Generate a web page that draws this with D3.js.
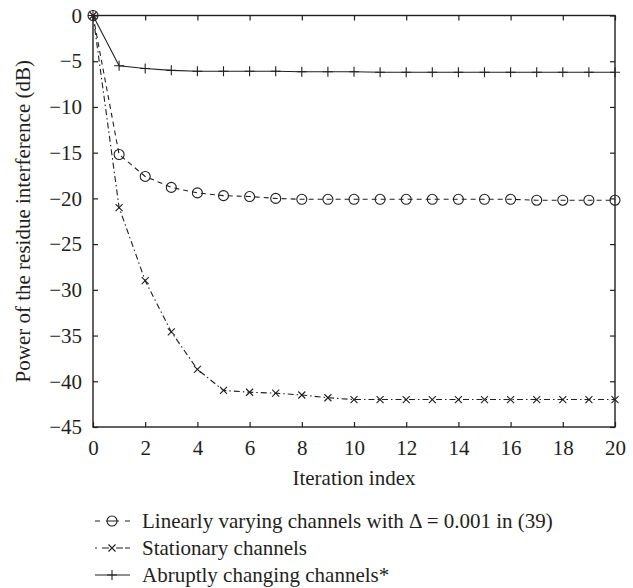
<!DOCTYPE html>
<html>
<head>
<meta charset="utf-8">
<script src="https://cdn.jsdelivr.net/npm/d3@7"></script>
<style>
  body { margin: 0; background: #fff; }
  text { font-family: "Liberation Serif", "DejaVu Serif", serif; fill: #231f20; }
</style>
</head>
<body>
<div id="chart"></div>
<script>
var width = 633;
var height = 588;

var iterations = [0,1,2,3,4,5,6,7,8,9,10,11,12,13,14,15,16,17,18,19,20];
var linearVarying = [0,-15.2,-17.6,-18.8,-19.4,-19.7,-19.8,-20.0,-20.1,-20.1,-20.1,-20.1,-20.1,-20.1,-20.1,-20.1,-20.1,-20.2,-20.2,-20.2,-20.2];
var stationary = [0,-21.0,-29.0,-34.6,-38.7,-41.0,-41.2,-41.3,-41.5,-41.8,-42.0,-42.0,-42.0,-42.0,-42.0,-42.0,-42.0,-42.0,-42.0,-42.0,-42.0];
var abrupt = [0,-5.5,-5.8,-6.0,-6.1,-6.1,-6.1,-6.1,-6.15,-6.15,-6.15,-6.2,-6.2,-6.2,-6.2,-6.2,-6.2,-6.2,-6.2,-6.2,-6.2];
var xTicks = [0,2,4,6,8,10,12,14,16,18,20];
var yTicks = [0,-5,-10,-15,-20,-25,-30,-35,-40,-45];
var legendLabels = ["Linearly varying channels with \u0394 = 0.001 in (39)", "Stationary channels", "Abruptly changing channels*"];

var margin = {left: 93, top: 15.5, right: 18, bottom: 161};
var w = width - margin.left - margin.right;
var h = height - margin.top - margin.bottom;
var ink = "#231f20";

var svg = d3.select("#chart")
            .append("svg")
            .attr("width", width)
            .attr("height", height);

var group = svg.append("g")
               .attr("transform", "translate(" + margin.left + "," + margin.top + ")");

var x = d3.scaleLinear().domain([0, 20]).range([0, w]);
var y = d3.scaleLinear().domain([-45, 0]).range([h, 0]);

var series = [
  {name: legendLabels[0], values: linearVarying, dash: "5,4", marker: "circle"},
  {name: legendLabels[1], values: stationary, dash: "6,3,1.5,3", marker: "cross"},
  {name: legendLabels[2], values: abrupt, dash: null, marker: "plus"}
];

// axes with inward ticks on all four sides
function styleAxis(g) {
  g.select(".domain").remove();
  g.selectAll("line").attr("stroke", ink).attr("stroke-width", 1.2);
  g.selectAll("text").attr("font-size", "21px")
   .attr("font-family", "'Liberation Serif', serif").attr("fill", ink);
}

group.append("g")
  .attr("transform", "translate(0," + h + ")")
  .call(d3.axisBottom(x).tickValues(xTicks).tickSizeInner(-5).tickSizeOuter(0).tickPadding(13)
        .tickFormat(d3.format("d")))
  .call(styleAxis);

group.append("g")
  .call(d3.axisTop(x).tickValues(xTicks).tickSizeInner(-5).tickSizeOuter(0).tickFormat(""))
  .call(styleAxis);

group.append("g")
  .call(d3.axisLeft(y).tickValues(yTicks).tickSizeInner(-5).tickSizeOuter(0).tickPadding(11)
        .tickFormat(function(d) { return d < 0 ? "\u2212" + Math.abs(d) : d; }))
  .call(styleAxis);

group.append("g")
  .attr("transform", "translate(" + w + ",0)")
  .call(d3.axisRight(y).tickValues(yTicks).tickSizeInner(-5).tickSizeOuter(0).tickFormat(""))
  .call(styleAxis);

group.append("rect")
  .attr("width", w).attr("height", h)
  .attr("fill", "none").attr("stroke", ink).attr("stroke-width", 1.4);

function drawMarker(sel, type) {
  if (type === "circle") {
    sel.append("circle").attr("r", 5).attr("fill", "none")
       .attr("stroke", ink).attr("stroke-width", 1.1);
  } else if (type === "cross") {
    sel.append("path").attr("d", "M-3.5,-3.5L3.5,3.5M-3.5,3.5L3.5,-3.5")
       .attr("stroke", ink).attr("stroke-width", 1.1);
  } else {
    sel.append("path").attr("d", "M-5,0L5,0M0,-5L0,5")
       .attr("stroke", ink).attr("stroke-width", 1.1);
  }
}

var line = d3.line()
  .x(function(d, i) { return x(iterations[i]); })
  .y(function(d) { return y(d); });

series.forEach(function(s) {
  group.append("path")
    .datum(s.values)
    .attr("d", line)
    .attr("fill", "none")
    .attr("stroke", ink)
    .attr("stroke-width", 1.1)
    .attr("stroke-dasharray", s.dash);

  group.selectAll(null)
    .data(s.values)
    .enter()
    .append("g")
    .attr("transform", function(d, i) { return "translate(" + x(iterations[i]) + "," + y(d) + ")"; })
    .each(function() { drawMarker(d3.select(this), s.marker); });
});

// axis titles
svg.append("text")
  .attr("x", margin.left + w / 2)
  .attr("y", 485)
  .attr("text-anchor", "middle")
  .attr("font-size", "21px")
  .text("Iteration index");

svg.append("text")
  .attr("transform", "translate(30," + (margin.top + h / 2) + ") rotate(-90)")
  .attr("text-anchor", "middle")
  .attr("font-size", "21px")
  .text("Power of the residue interference (dB)");

// legend
var legend = svg.append("g").attr("transform", "translate(95,521)");
series.forEach(function(s, i) {
  var row = legend.append("g").attr("transform", "translate(0," + (i * 27) + ")");
  row.append("line")
    .attr("x1", 0).attr("x2", 35).attr("y1", 0).attr("y2", 0)
    .attr("stroke", ink).attr("stroke-width", 1.1)
    .attr("stroke-dasharray", s.dash ? (i === 0 ? "5,6,13,6,5" : "2,5,7,7,7") : null);
  var m = row.append("g").attr("transform", "translate(17,0)");
  drawMarker(m, s.marker);
  row.append("text")
    .attr("x", 47).attr("y", 7)
    .attr("font-size", "21px")
    .text(s.name);
});
</script>
</body>
</html>
